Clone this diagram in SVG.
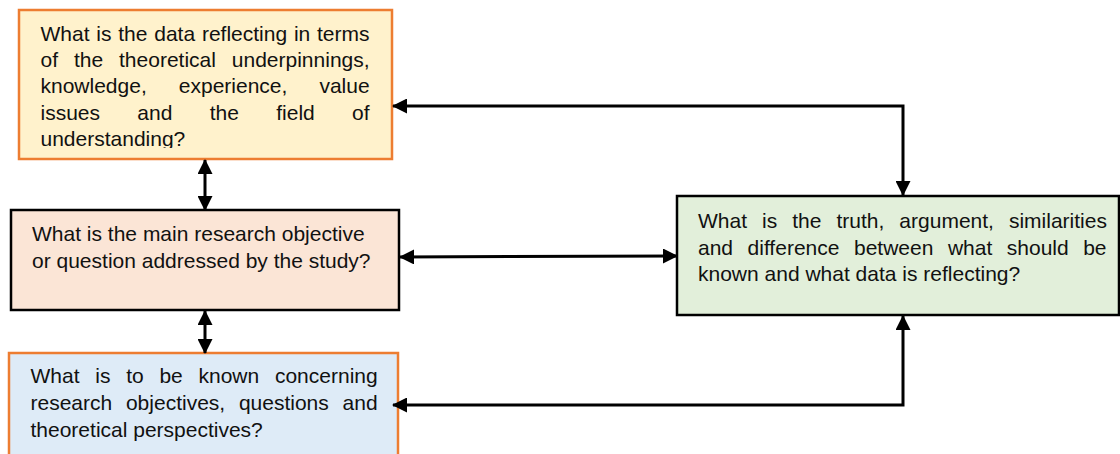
<svg xmlns="http://www.w3.org/2000/svg" width="1120" height="454" viewBox="0 0 1120 454">
  <style>
    .box-orange { stroke: #ED7D31; stroke-width: 2.5; }
    .box-black { stroke: #000000; stroke-width: 2.5; }
    .label { font-family: "Liberation Sans", Arial, sans-serif; font-size: 21px; fill: #111111; }
    .link { fill: none; stroke: #000000; stroke-width: 3; }
  </style>
  <defs>
    <marker id="arrow" viewBox="0 0 15 15" markerUnits="userSpaceOnUse" markerWidth="15" markerHeight="15" refX="14" refY="7.5" orient="auto-start-reverse">
      <path d="M0,0 L15,7.5 L0,15 z" fill="#000000"/>
    </marker>
    <clipPath id="clip-data">
      <rect x="19" y="10" width="373" height="138"/>
    </clipPath>
  </defs>

  <rect width="1120" height="454" fill="#ffffff"/>

  <!-- Data reflection box -->
  <g id="node-data-reflecting">
    <rect x="19" y="10" width="373" height="149" fill="#FFF2CC" class="box-orange"/>
    <g clip-path="url(#clip-data)">
      <text class="label" x="40.5" y="40.7" style="word-spacing:0.95px">What is the data reflecting in terms</text>
      <text class="label" x="40.5" y="67" style="word-spacing:10.07px">of the theoretical underpinnings,</text>
      <text class="label" x="40.5" y="93.3" style="word-spacing:26.2px">knowledge, experience, value</text>
      <text class="label" x="40.5" y="119.6" style="word-spacing:31.5px">issues and the field of</text>
      <text class="label" x="40.5" y="145.9">understanding?</text>
    </g>
  </g>

  <!-- Main research objective box -->
  <g id="node-main-objective">
    <rect x="11" y="210" width="388" height="100" fill="#FBE5D6" class="box-black"/>
    <text class="label" x="32" y="240.7">What is the main research objective</text>
    <text class="label" x="32" y="267.8">or question addressed by the study?</text>
  </g>

  <!-- What is to be known box -->
  <g id="node-to-be-known">
    <rect x="9" y="353" width="389" height="120" fill="#DEEBF7" class="box-orange"/>
    <text class="label" x="30.5" y="383.3" style="word-spacing:9.9px">What is to be known concerning</text>
    <text class="label" x="30.5" y="410" style="word-spacing:7.9px">research objectives, questions and</text>
    <text class="label" x="30.5" y="437">theoretical perspectives?</text>
  </g>

  <!-- Comparison box -->
  <g id="node-comparison">
    <rect x="677" y="196" width="442" height="119" fill="#E2EFDA" class="box-black"/>
    <text class="label" x="698" y="228.3" style="word-spacing:9.2px">What is the truth, argument, similarities</text>
    <text class="label" x="698" y="254.6" style="word-spacing:8.7px">and difference between what should be</text>
    <text class="label" x="698" y="280.9">known and what data is reflecting?</text>
  </g>

  <!-- Connectors -->
  <g id="connectors">
    <path class="link" d="M205,160 L205,210" marker-start="url(#arrow)" marker-end="url(#arrow)"/>
    <path class="link" d="M205,311 L205,353" marker-start="url(#arrow)" marker-end="url(#arrow)"/>
    <path class="link" d="M400,257 L677,256" marker-start="url(#arrow)" marker-end="url(#arrow)"/>
    <path class="link" d="M903,195 L903,106 L393,106" marker-start="url(#arrow)" marker-end="url(#arrow)"/>
    <path class="link" d="M903,316 L903,405 L393,405" marker-start="url(#arrow)" marker-end="url(#arrow)"/>
  </g>
</svg>
